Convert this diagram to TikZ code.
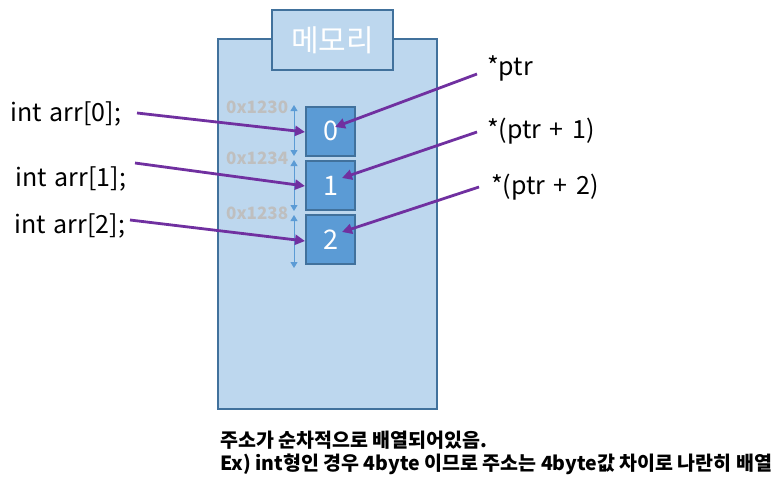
\documentclass[tikz,border=0pt]{standalone}
\usepackage{fontspec}
\setmainfont{Noto Sans CJK KR}
\usetikzlibrary{arrows.meta}
\definecolor{memfill}{HTML}{BDD7EE}
\definecolor{memline}{HTML}{41719C}
\definecolor{cellfill}{HTML}{5B9BD5}
\definecolor{ptrpurple}{HTML}{7030A0}
\definecolor{addrgray}{HTML}{BFBFBF}
\newcommand{\wsp}{\hspace{8.5pt}}
\newcommand{\isp}{\hspace{8pt}}
\tikzset{
  membox/.style={draw=memline, fill=memfill, line width=2pt},
  cellbox/.style={draw=memline, fill=cellfill, line width=2pt, minimum width=49pt, minimum height=49pt, inner sep=0pt, text=white, font=\fontsize{27}{27}\selectfont},
  titlebox/.style={draw=memline, fill=memfill, line width=2pt, minimum width=121pt, minimum height=60pt, inner sep=0pt, text=white, font=\fontsize{30}{30}\selectfont},
  codelabel/.style={anchor=west, inner sep=0pt, font=\fontsize{25}{25}\selectfont},
  addrlabel/.style={anchor=west, inner sep=0pt, text=addrgray, font=\bfseries\fontsize{17}{17}\selectfont},
  ptrarrow/.style={draw=ptrpurple, line width=2.8pt, -{Triangle[length=10pt,width=10pt]}},
  sizearrow/.style={draw=cellfill, line width=1pt, {Triangle[length=6pt,width=7pt]}-{Triangle[length=6pt,width=7pt]}},
  note/.style={anchor=west, inner sep=0pt, font=\bfseries\fontsize{19.5}{19.5}\selectfont}
}
\begin{document}
\begin{tikzpicture}[x=1pt,y=-1pt]
\useasboundingbox (0,0) rectangle (781,479);
% memory block
\node[membox, minimum width=219pt, minimum height=370pt, inner sep=0pt, anchor=north west] (mem) at (217,38) {};
\node[titlebox] (title) at (332.5,40) {메모리};
% cells
\node[cellbox] (c0) at (330.5,131) {0};
\node[cellbox] (c1) at (330.5,185.5) {1};
\node[cellbox] (c2) at (330.5,239.5) {2};
% size arrows
\coordinate (s0a) at (294,105); \coordinate (s0b) at (294,156);
\coordinate (s1a) at (294,160); \coordinate (s1b) at (294,211);
\coordinate (s2a) at (294,215); \coordinate (s2b) at (294,268);
\draw[sizearrow] (s0a) -- (s0b);
\draw[sizearrow] (s1a) -- (s1b);
\draw[sizearrow] (s2a) -- (s2b);
% addresses
\node[addrlabel] (a0) at (226,107) {0x1230};
\node[addrlabel] (a1) at (226,158) {0x1234};
\node[addrlabel] (a2) at (226,213) {0x1238};
% left labels
\node[codelabel] (l0) at (10,114) {int\isp arr[0];};
\node[codelabel] (l1) at (15,179) {int\isp arr[1];};
\node[codelabel] (l2) at (14,226) {int\isp arr[2];};
% right labels
\node[codelabel] (r0) at (487,68) {*ptr};
\node[codelabel] (r1) at (487,131) {*(ptr\wsp+\wsp1)};
\node[codelabel] (r2) at (491,187) {*(ptr\wsp+\wsp2)};
% arrow endpoints
\coordinate (l0s) at (137,113); \coordinate (l0e) at (c0.west |- 0,132);
\coordinate (l1s) at (135,163); \coordinate (l1e) at (c1.west |- 0,186);
\coordinate (l2s) at (130,220); \coordinate (l2e) at (c2.west |- 0,241);
\draw[ptrarrow] (l0s) -- (l0e);
\draw[ptrarrow] (l1s) -- (l1e);
\draw[ptrarrow] (l2s) -- (l2e);
\coordinate (r0s) at (477,74); \coordinate (r0e) at (335,127);
\coordinate (r1s) at (477,132); \coordinate (r1e) at (342,178);
\coordinate (r2s) at (479,187); \coordinate (r2e) at (342,232);
\draw[ptrarrow] (r0s) -- (r0e);
\draw[ptrarrow] (r1s) -- (r1e);
\draw[ptrarrow] (r2s) -- (r2e);
% notes
\node[note] (n1) at (220,440) {주소가 순차적으로 배열되어있음.};
\node[note] (n2) at (220,464) {Ex) int형인 경우 4byte 이므로 주소는 4byte값 차이로 나란히 배열};
\end{tikzpicture}
\end{document}
